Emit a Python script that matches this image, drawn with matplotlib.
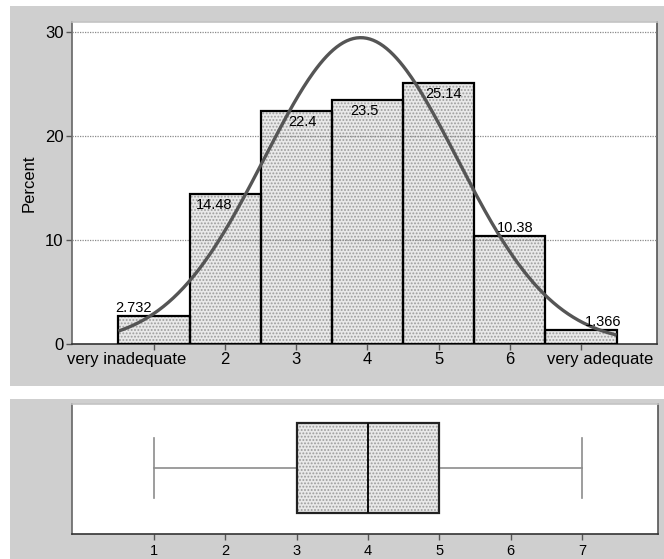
import matplotlib
matplotlib.use('Agg')
import matplotlib.pyplot as plt
import matplotlib.transforms as mtransforms
from matplotlib.patches import Rectangle
import numpy as np

plt.rcParams['font.family'] = ['Liberation Sans', 'DejaVu Sans']
plt.rcParams['hatch.linewidth'] = 0.9

# Histogram data (percent per rating)
ratings = [1, 2, 3, 4, 5, 6, 7]
percents = [2.732, 14.48, 22.4, 23.5, 25.14, 10.38, 1.366]
tick_labels = ['very inadequate', '2', '3', '4', '5', '6', 'very adequate']
y_ticks = [0, 10, 20, 30]

# Box plot summary
box_min = 1
box_q1 = 3
box_median = 4
box_q3 = 5
box_max = 7
box_ticks = [1, 2, 3, 4, 5, 6, 7]

panel_gray = '#cfcfcf'
fill_color = '#e9e9e9'
speckle_color = '#9c9c9c'
curve_color = '#555555'

fig = plt.figure(figsize=(6.64, 5.59), dpi=100)
fig.patch.set_facecolor('white')
fig.patches.append(Rectangle((0.015, 0.3095), 0.985, 0.680, transform=fig.transFigure,
                             facecolor=panel_gray, edgecolor='none', zorder=-10))
fig.patches.append(Rectangle((0.015, 0.0), 0.985, 0.286, transform=fig.transFigure,
                             facecolor=panel_gray, edgecolor='none', zorder=-10))

# ---- Histogram panel ----
ax = fig.add_axes([0.1084, 0.3846, 0.8811, 0.5760])
ax.set_facecolor('white')
ax.bar(ratings, percents, width=1.0, color=fill_color, edgecolor=speckle_color,
       hatch='.....', linewidth=0, zorder=2)
ax.bar(ratings, percents, width=1.0, facecolor='none', edgecolor='black',
       linewidth=1.6, zorder=4)

for y in y_ticks[1:]:
    ax.axhline(y, color='#8a8a8a', linestyle=(0, (1, 1)), linewidth=0.9, zorder=3)

# normal curve fitted to the histogram
p = np.array(percents) / np.sum(percents)
mu = np.sum(np.array(ratings) * p)
sigma = np.sqrt(np.sum((np.array(ratings) - mu) ** 2 * p))
xs = np.linspace(0.5, 7.5, 300)
ys = 100.0 / (sigma * np.sqrt(2 * np.pi)) * np.exp(-0.5 * ((xs - mu) / sigma) ** 2)
ax.plot(xs, ys, color=curve_color, linewidth=2.4, zorder=5, solid_capstyle='butt')

# value labels (pixel nudges to follow the original placement)
label_dx = [-20, -11, 6, -3, 5, 5, 22]
for r, v, dx in zip(ratings, percents, label_dx):
    if v > 12:
        ax.annotate(f'{v:g}', (r, v), xytext=(dx, -4), textcoords='offset pixels',
                    ha='center', va='top', fontsize=10.5, zorder=6)
    else:
        ax.annotate(f'{v:g}', (r, v), xytext=(dx, 1), textcoords='offset pixels',
                    ha='center', va='bottom', fontsize=10.5, zorder=6)

ax.set_xlim(-0.152, 8.068)
ax.set_ylim(0, 31.0)
ax.set_xticks(ratings)
ax.set_xticklabels(tick_labels, fontsize=12)
ax.set_yticks(y_ticks)
ax.set_yticklabels([str(t) for t in y_ticks], fontsize=12)
ax.tick_params(axis='both', direction='out', length=4, width=1, color='#555555', pad=2)
ax.set_ylabel('Percent', fontsize=12, labelpad=6)

labels = ax.get_xticklabels()
labels[0].set_transform(labels[0].get_transform() +
                        mtransforms.ScaledTranslation(-27 / 100, 0, fig.dpi_scale_trans))
labels[-1].set_transform(labels[-1].get_transform() +
                         mtransforms.ScaledTranslation(19 / 100, 0, fig.dpi_scale_trans))

ax.spines['top'].set_color('#c4c4c4')
ax.spines['right'].set_color('#555555')
ax.spines['left'].set_color('#666666')
ax.spines['bottom'].set_color('#333333')
for s in ax.spines.values():
    s.set_linewidth(1.2)

# ---- Box plot panel ----
bx = fig.add_axes([0.1084, 0.0447, 0.8826, 0.2326])
bx.set_facecolor('white')
stats = [dict(whislo=box_min, q1=box_q1, med=box_median, q3=box_q3, whishi=box_max, fliers=[])]
bx.bxp(stats, positions=[0.505], widths=0.69, orientation='horizontal', patch_artist=True,
       capwidths=0.46, showfliers=False,
       boxprops=dict(facecolor=fill_color, edgecolor=speckle_color, hatch='.....', linewidth=0),
       whiskerprops=dict(color='#8c8c8c', linewidth=1.2),
       capprops=dict(color='#8c8c8c', linewidth=1.2),
       medianprops=dict(color='black', linewidth=1.4))
bx.bxp(stats, positions=[0.505], widths=0.69, orientation='horizontal', patch_artist=True,
       showcaps=False, showfliers=False,
       boxprops=dict(facecolor='none', edgecolor='#222222', linewidth=1.6),
       whiskerprops=dict(linewidth=0),
       medianprops=dict(color='#111111', linewidth=1.4))
bx.set_ylim(0, 1)
bx.set_xlim(-0.152, 8.068)
bx.set_yticks([])
bx.set_xticks(box_ticks)
bx.set_xticklabels([str(t) for t in box_ticks], fontsize=10.5)
bx.tick_params(axis='x', direction='out', length=4, width=1, color='#555555', pad=3)
bx.spines['top'].set_color('#c4c4c4')
bx.spines['right'].set_color('#555555')
bx.spines['left'].set_color('#666666')
bx.spines['bottom'].set_color('#333333')
for s in bx.spines.values():
    s.set_linewidth(1.2)

fig.savefig('out.png', dpi=100)
